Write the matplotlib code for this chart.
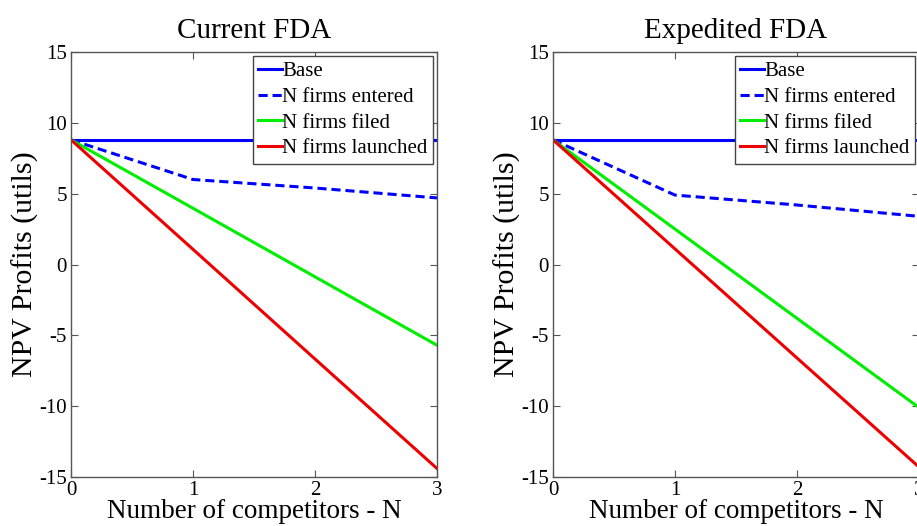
import matplotlib
matplotlib.use("Agg")
import matplotlib.pyplot as plt

plt.rcParams['font.family'] = ['Liberation Serif', 'DejaVu Serif']
plt.rcParams['axes.unicode_minus'] = False

n = [0, 1, 2, 3]
titles = ["Current FDA", "Expedited FDA"]
labels = ["Base", "N firms entered", "N firms filed", "N firms launched"]

cur_base = [8.8, 8.8, 8.8, 8.8]
cur_entered = [8.8, 6.0, 5.4, 4.7]
cur_filed = [8.8, 3.97, -0.87, -5.7]
cur_launched = [8.8, 1.07, -6.67, -14.4]

exp_base = [8.8, 8.8, 8.8, 8.8]
exp_entered = [8.8, 4.9, 4.2, 3.4]
exp_filed = [8.8, 2.5, -3.8, -10.1]
exp_launched = [8.8, 1.1, -6.6, -14.3]

xticks = [0, 1, 2, 3]
yticks = [-15, -10, -5, 0, 5, 10, 15]

W, H = 917, 526
fig = plt.figure(figsize=(W / 100, H / 100), dpi=100)

positions = [(71, 437), (553, 919)]
top, bottom = 52, 477
series = [
    (cur_base, cur_entered, cur_filed, cur_launched),
    (exp_base, exp_entered, exp_filed, exp_launched),
]
styles = [("#0000ff", "-"), ("#0000ff", "--"), ("#00ee00", "-"), ("#ee0000", "-")]

for (x0, x1), title, data in zip(positions, titles, series):
    ax = fig.add_axes([x0 / W, 1 - bottom / H, (x1 - x0) / W, (bottom - top) / H])
    for vals, (c, ls), lab in zip(data, styles, labels):
        ax.plot(n, vals, color=c, linestyle=ls, linewidth=2.2, label=lab,
                dashes=(3, 1.6) if ls == "--" else (None, None))
    ax.set_xlim(0, 3)
    ax.set_ylim(-15, 15)
    ax.set_xticks(xticks)
    ax.set_yticks(yticks)
    ax.tick_params(direction="in", top=True, right=True, labelsize=15, length=5,
                   color="#555555", pad=3)
    for s in ax.spines.values():
        s.set_color("#555555")
        s.set_linewidth(1.0)
    ax.set_title(title, fontsize=21, pad=10)
    ax.set_xlabel("Number of competitors - N", fontsize=19.5, labelpad=-1)
    ax.set_ylabel("NPV Profits (utils)", fontsize=21.5, labelpad=0)
    leg = ax.legend(loc="upper right", fontsize=15, handlelength=1.15, handletextpad=0.0,
                    borderpad=0.25, labelspacing=0.3, borderaxespad=0.2,
                    fancybox=False, framealpha=1)
    leg.get_frame().set_edgecolor("#444444")
    leg.get_frame().set_linewidth(1.0)

fig.savefig("out.png", dpi=100)
